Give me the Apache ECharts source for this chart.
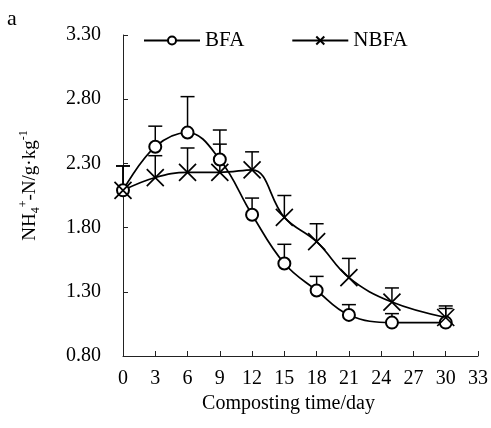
<!DOCTYPE html>
<html>
<head>
<meta charset="utf-8">
<script src="https://cdn.jsdelivr.net/npm/echarts@6/dist/echarts.min.js"></script>
<style>html,body{margin:0;padding:0;background:#fff}#c{width:491px;height:428px}</style>
</head>
<body>
<div id="c"></div>
<script>
var days = [0, 3, 6, 9, 12, 15, 18, 21, 25, 30];
var bfaMean = [2.09, 2.43, 2.54, 2.33, 1.90, 1.52, 1.31, 1.12, 1.06, 1.06];
var bfaSd = [0.19, 0.16, 0.28, 0.23, 0.13, 0.15, 0.11, 0.08, 0.07, 0.11];
var nbfaMean = [2.09, 2.19, 2.23, 2.23, 2.25, 1.88, 1.69, 1.41, 1.22, 1.10];
var nbfaSd = [0.19, 0.17, 0.19, 0.22, 0.14, 0.17, 0.14, 0.15, 0.11, 0.09];
var yTicks = [0.8, 1.3, 1.8, 2.3, 2.8, 3.3];

var FONT = '"Liberation Serif", "Times New Roman", serif';
var chart = echarts.init(document.getElementById('c'), null, {renderer: 'canvas'});

function pairs(xs, ys) { return xs.map(function (x, i) { return [x, ys[i]]; }); }
function errData(xs, ys, sd) { return xs.map(function (x, i) { return [x, ys[i], ys[i] + sd[i]]; }); }

function errRender(params, api) {
  var p0 = api.coord([api.value(0), api.value(1)]);
  var p1 = api.coord([api.value(0), api.value(2)]);
  var hw = 7;
  var st = {stroke: '#000', lineWidth: 1.5};
  return {
    type: 'group',
    children: [
      {type: 'line', shape: {x1: p0[0], y1: p0[1], x2: p1[0], y2: p1[1]}, style: st},
      {type: 'line', shape: {x1: p1[0] - hw, y1: p1[1], x2: p1[0] + hw, y2: p1[1]}, style: st}
    ]
  };
}

var crossPath = 'path://M0,0L10,10M10,0L0,10';

chart.setOption({
  animation: false,
  title: {text: 'a', left: 7, top: 8, padding: 0, textStyle: {fontFamily: FONT, fontSize: 22, fontWeight: 'normal', color: '#000'}},
  legend: {
    left: 143, top: 30, padding: 0, itemWidth: 56, itemHeight: 10, itemGap: 47,
    textStyle: {fontFamily: FONT, fontSize: 21, color: '#000'},
    data: ['BFA', 'NBFA']
  },
  grid: {left: 123, right: 13, top: 35, bottom: 72, containLabel: false},
  xAxis: {
    type: 'value', min: 0, max: 33, interval: 3,
    name: 'Composting time/day', nameLocation: 'middle', nameGap: 27,
    nameTextStyle: {fontFamily: FONT, fontSize: 20, color: '#000', padding: [0, 24, 0, 0]},
    axisLine: {lineStyle: {color: '#222', width: 1}},
    axisTick: {inside: true, length: 5, lineStyle: {color: '#222'}},
    axisLabel: {fontFamily: FONT, fontSize: 20, color: '#000', margin: 13},
    splitLine: {show: false}
  },
  yAxis: {
    type: 'value', min: 0.8, max: 3.3,
    name: '{a|NH}{sub|4}{sup|+}{a|-N/g·kg}{sup|-1}',
    nameLocation: 'middle', nameGap: 81, nameRotate: 90,
    nameTextStyle: {
      fontFamily: FONT, fontSize: 19, color: '#000', padding: [0, 0, 0, 20],
      rich: {
        a: {fontFamily: FONT, fontSize: 19, color: '#000', lineHeight: 24, verticalAlign: 'middle'},
        sub: {fontFamily: FONT, fontSize: 12, color: '#000', lineHeight: 24, verticalAlign: 'bottom'},
        sup: {fontFamily: FONT, fontSize: 12, color: '#000', lineHeight: 24, verticalAlign: 'top'}
      }
    },
    axisLine: {show: true, lineStyle: {color: '#222', width: 1}},
    axisTick: {show: true, inside: true, length: 5, lineStyle: {color: '#222'}, customValues: yTicks},
    axisLabel: {fontFamily: FONT, fontSize: 20, color: '#000', margin: 22, customValues: yTicks,
      formatter: function (v) { return v.toFixed(2); }},
    splitLine: {show: false}
  },
  series: [
    {
      type: 'custom', name: 'BFA err', renderItem: errRender, data: errData(days, bfaMean, bfaSd),
      encode: {x: 0, y: [1, 2]}, z: 1, silent: true
    },
    {
      type: 'custom', name: 'NBFA err', renderItem: errRender, data: errData(days, nbfaMean, nbfaSd),
      encode: {x: 0, y: [1, 2]}, z: 1, silent: true
    },
    {
      type: 'line', name: 'BFA', data: pairs(days, bfaMean), smooth: 0.4,
      symbol: 'emptyCircle', symbolSize: 12, z: 3,
      lineStyle: {color: '#000', width: 1.7},
      itemStyle: {color: '#000', borderColor: '#000', borderWidth: 1.5}
    },
    {
      type: 'line', name: 'NBFA', data: pairs(days, nbfaMean), smooth: 0.4,
      symbol: crossPath, symbolSize: 17, z: 3,
      lineStyle: {color: '#000', width: 1.7},
      itemStyle: {color: 'none', borderColor: '#000', borderWidth: 1.7}
    }
  ]
});
</script>
</body>
</html>
